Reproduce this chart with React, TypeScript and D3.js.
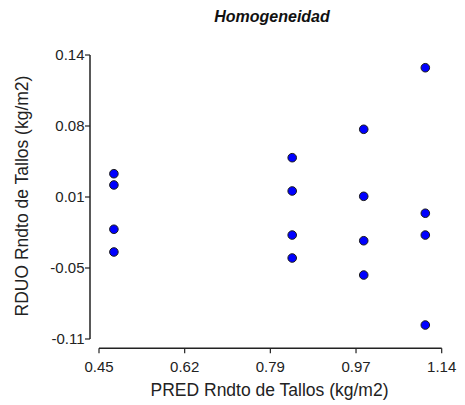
import React from "react";
import * as d3 from "d3";

const groupX: number[] = [0.48, 0.48, 0.48, 0.48, 0.839, 0.839, 0.839, 0.839, 0.983, 0.983, 0.983, 0.983, 1.107, 1.107, 1.107, 1.107];
const residuals: number[] = [0.0355, 0.0256, -0.0134, -0.0334, 0.0496, 0.0203, -0.0185, -0.0387, 0.0746, 0.0156, -0.0235, -0.0537, 0.1288, 0.0007, -0.0185, -0.0977];
const xTickValues: number[] = [0.45, 0.6225, 0.795, 0.9675, 1.14];
const xTickLabels: string[] = ["0.45", "0.62", "0.79", "0.97", "1.14"];
const yTickValues: number[] = [-0.11, -0.0475, 0.015, 0.0775, 0.14];
const yTickLabels: string[] = ["-0.11", "-0.05", "0.01", "0.08", "0.14"];

export default function App() {
  const W = 465, H = 405;
  const x = d3.scaleLinear().domain([0.45, 1.14]).range([99, 441.7]);
  const y = d3.scaleLinear().domain([-0.11, 0.14]).range([339, 55]);
  const axisX = 90;
  const axisY = 348.3;
  const font = "'Liberation Sans', Arial, sans-serif";
  const ink = "#222";
  return (
    <svg width={W} height={H} style={{ position: "absolute", left: 0, top: 0, background: "#fff" }} fontFamily={font}>
      <text x={272} y={22} textAnchor="middle" fontSize={16} fontWeight="bold" fontStyle="italic" fill="#111">Homogeneidad</text>
      {/* Y axis */}
      <line x1={axisX} x2={axisX} y1={y(0.14)} y2={y(-0.11)} stroke={ink} strokeWidth={1.5} />
      {yTickValues.map((v, i) => (
        <g key={"yt" + i}>
          <line x1={axisX - 5} x2={axisX} y1={y(v)} y2={y(v)} stroke={ink} strokeWidth={1.2} />
          <text x={axisX - 5.5} y={y(v)} dy="0.35em" textAnchor="end" fontSize={15} fill={ink}>{yTickLabels[i]}</text>
        </g>
      ))}
      {/* X axis */}
      <line x1={x(0.45)} x2={x(1.14)} y1={axisY} y2={axisY} stroke={ink} strokeWidth={1.5} />
      {xTickValues.map((v, i) => (
        <g key={"xt" + i}>
          <line x1={x(v)} x2={x(v)} y1={axisY} y2={axisY + 5} stroke={ink} strokeWidth={1.2} />
          <text x={x(v)} y={372} textAnchor="middle" fontSize={15} fill={ink}>{xTickLabels[i]}</text>
        </g>
      ))}
      <text x={269.5} y={396} textAnchor="middle" fontSize={17.5} fill={ink}>PRED Rndto de Tallos (kg/m2)</text>
      <text transform={`translate(28,196) rotate(-90)`} textAnchor="middle" fontSize={17.5} fill={ink}>RDUO Rndto de Tallos (kg/m2)</text>
      {residuals.map((r, i) => (
        <circle key={"p" + i} cx={x(groupX[i])} cy={y(r)} r={4.3} fill="#0000ff" stroke="#1a1a1a" strokeWidth={1} />
      ))}
    </svg>
  );
}
